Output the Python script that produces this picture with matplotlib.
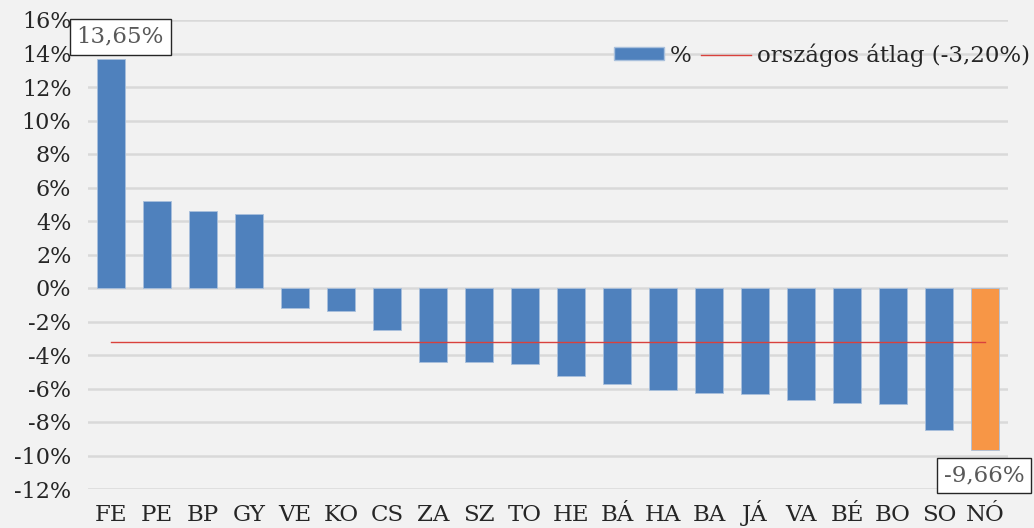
import matplotlib
matplotlib.use("Agg")
import matplotlib.pyplot as plt
from matplotlib.patches import Patch
from matplotlib.lines import Line2D

categories = ["FE", "PE", "BP", "GY", "VE", "KO", "CS", "ZA", "SZ", "TO",
              "HE", "BÁ", "HA", "BA", "JÁ", "VA", "BÉ", "BO", "SO", "NÓ"]
values = [13.65, 5.2, 4.6, 4.4, -1.2, -1.37, -2.5, -4.4, -4.4, -4.56,
          -5.25, -5.71, -6.09, -6.25, -6.33, -6.71, -6.87, -6.95, -8.48, -9.66]
average = -3.20
yticks = list(range(-12, 17, 2))

plt.rcParams['font.family'] = ['DejaVu Serif']
FS = 16.5
fig = plt.figure(figsize=(10.34, 5.28), dpi=100)
fig.patch.set_facecolor('#f2f2f2')
ax = fig.add_axes([88/1034, 39/528, 920/1034, 469/528])
ax.set_facecolor('#f2f2f2')

x = list(range(len(categories)))
colors = ['#4f81bd'] * (len(values) - 1) + ['#f79646']
ax.bar(x, values, width=0.6, color=colors, edgecolor='#a9c0dc', linewidth=0.6, zorder=3)
ax.plot(x, [average] * len(x), color='#d9413c', linewidth=1.0, zorder=4)

ax.set_xlim(-0.5, len(x) - 0.5)
ax.set_ylim(-12, 16)
ax.set_yticks(yticks)
ax.set_yticklabels([f"{t}%" for t in yticks])
ax.set_xticks(x)
ax.set_xticklabels(categories, va='baseline')
ax.tick_params(axis='x', length=0, labelsize=FS, colors='#262626', pad=23)
ax.tick_params(axis='y', length=0, labelsize=16, colors='#262626', pad=12)
ax.yaxis.grid(True, color='#d9d9d9', linewidth=1.8, zorder=0)
for s in ax.spines.values():
    s.set_visible(False)

bbox = dict(boxstyle='square,pad=0.3', facecolor='white', edgecolor='#262626', linewidth=1)
ax.annotate("13,65%", xy=(0, values[0]), xytext=(0.2, 15.0), ha='center', va='center',
            fontsize=FS, color='#595959', bbox=bbox, zorder=5)
ax.annotate("-9,66%", xy=(19, values[-1]), xytext=(18.98, -11.2), ha='center', va='center',
            fontsize=FS, color='#595959', bbox=bbox, zorder=5, annotation_clip=False)

handles = [Patch(facecolor='#4f81bd', edgecolor='#a9c0dc'),
           Line2D([0], [0], color='#d9413c', linewidth=1.0)]
leg = ax.legend(handles, ["%", "országos átlag (-3,20%)"], loc='center right',
                bbox_to_anchor=(1.024, 0.925), frameon=False, ncol=2, fontsize=FS,
                handlelength=2.2, handleheight=0.5, handletextpad=0.25,
                columnspacing=0.4, borderpad=0, borderaxespad=0,
                labelcolor='#262626')

fig.savefig("out.png", dpi=100, facecolor=fig.get_facecolor())
